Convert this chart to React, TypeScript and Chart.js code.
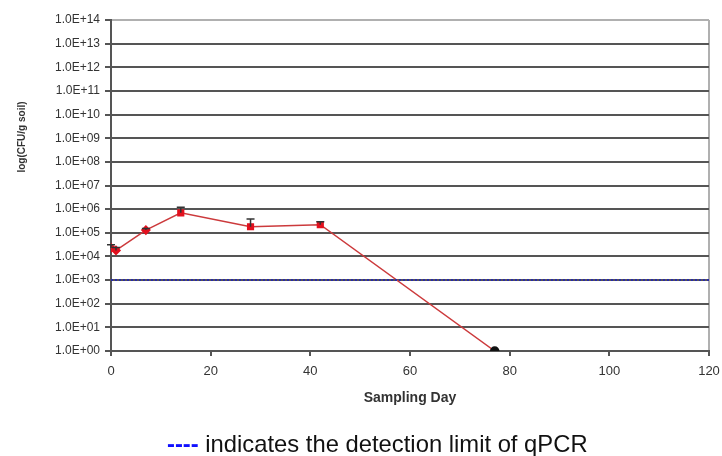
import React, { useEffect, useRef } from "react";
import { Chart, registerables } from "chart.js";

Chart.register(...registerables);

const days = [0, 1, 7, 14, 28, 42, 77];
const cfu = [2.3e4, 1.8e4, 1.3e5, 7.0e5, 1.8e5, 2.2e5, 1];
const errUpper = [3.1e4, 2.4e4, 1.5e5, 1.2e6, 3.8e5, 2.9e5, 0];
const pointColors = ["#e3101e", "#e3101e", "#e3101e", "#e3101e", "#e3101e", "#e3101e", "#111111"];
const pointStyles = ["rectRot", "rectRot", "rectRot", "rect", "rect", "rect", "circle"];
const detectionLimit = 1000;
const xRange = [0, 120];
const yExponents = [0, 1, 2, 3, 4, 5, 6, 7, 8, 9, 10, 11, 12, 13, 14];

const errorBarPlugin = {
  id: "errorBars",
  afterDatasetsDraw(chart: any) {
    const ctx = chart.ctx;
    const xs = chart.scales.x;
    const ys = chart.scales.y;
    ctx.save();
    ctx.strokeStyle = "#333333";
    ctx.lineWidth = 1.5;
    days.forEach((d, i) => {
      if (!errUpper[i] || errUpper[i] <= cfu[i]) return;
      const px = xs.getPixelForValue(d);
      const y0 = ys.getPixelForValue(cfu[i]);
      const y1 = ys.getPixelForValue(errUpper[i]);
      ctx.beginPath();
      ctx.moveTo(px, y0);
      ctx.lineTo(px, y1);
      ctx.moveTo(px - 4, y1);
      ctx.lineTo(px + 4, y1);
      ctx.stroke();
    });
    ctx.restore();
  },
};

const yTitlePlugin = {
  id: "yTitle",
  afterDraw(chart: any) {
    const ctx = chart.ctx;
    ctx.save();
    ctx.translate(22, 137);
    ctx.rotate(-Math.PI / 2);
    ctx.fillStyle = "#333333";
    ctx.font = "bold 10px 'Liberation Sans', Arial, sans-serif";
    ctx.textAlign = "center";
    ctx.textBaseline = "middle";
    ctx.fillText("log(CFU/g soil)", 0, 0);
    ctx.restore();
  },
};

export default function App() {
  const ref = useRef<HTMLCanvasElement>(null);
  useEffect(() => {
    if (!ref.current) return;
    const chart = new Chart(ref.current, {
      type: "line",
      data: {
        datasets: [
          {
            label: "Detection limit",
            data: xRange.map((x) => ({ x, y: detectionLimit })),
            borderColor: "#2a2aa8",
            borderWidth: 2,
            borderDash: [2, 2],
            pointRadius: 0,
            fill: false,
          },
          {
            label: "CFU",
            data: days.map((d, i) => ({ x: d, y: cfu[i] })),
            borderColor: "#cc3a3c",
            borderWidth: 1.5,
            pointRadius: 4,
            pointStyle: pointStyles,
            pointBackgroundColor: pointColors,
            pointBorderColor: pointColors,
            fill: false,
            tension: 0,
          },
        ],
      },
      options: {
        responsive: false,
        animation: false,
        layout: { padding: { left: 0, right: 13, top: 20, bottom: 45 } },
        plugins: { legend: { display: false }, tooltip: { enabled: false } },
        scales: {
          x: {
            type: "linear",
            min: xRange[0],
            max: xRange[1],
            afterFit(scale: any) {
              scale.height = 60;
              scale.paddingRight = 0;
              scale.paddingLeft = 0;
            },
            ticks: {
              stepSize: 20,
              padding: 8,
              color: "#333333",
              font: { family: "'Liberation Sans', Arial, sans-serif", size: 13 },
            },
            grid: {
              drawOnChartArea: true,
              color: (c: any) => (c.tick && c.tick.value === xRange[1] ? "#b0b0b0" : "transparent"),
              tickColor: "#555555",
              tickLength: 5,
              lineWidth: 2,
            },
            border: { color: "#555555", width: 2 },
            title: {
              display: true,
              text: "Sampling Day",
              color: "#333333",
              font: { family: "'Liberation Sans', Arial, sans-serif", size: 14, weight: "bold" },
              padding: { top: 0, bottom: 4 },
            },
          },
          y: {
            type: "logarithmic",
            min: 1,
            max: 1e14,
            afterFit(scale: any) {
              scale.width = 111;
            },
            afterBuildTicks(scale: any) {
              scale.ticks = yExponents.map((e) => ({ value: Math.pow(10, e) }));
            },
            ticks: {
              autoSkip: false,
              padding: 5,
              color: "#333333",
              font: { family: "'Liberation Sans', Arial, sans-serif", size: 12 },
              callback: (v: any) => {
                const e = Math.round(Math.log10(Number(v)));
                return "1.0E+" + String(e).padStart(2, "0");
              },
            },
            grid: {
              color: (c: any) => (c.tick && c.tick.value === 1e14 ? "#b0b0b0" : "#555555"),
              tickColor: "#555555",
              tickLength: 6,
              lineWidth: 2,
            },
            border: { color: "#555555", width: 2 },
          },
        },
      },
      plugins: [errorBarPlugin, yTitlePlugin],
    } as any);
    return () => chart.destroy();
  }, []);

  return (
    <div style={{ position: "absolute", left: 0, top: 0, width: 722, height: 456, background: "#ffffff" }}>
      <canvas ref={ref} width={722} height={456} style={{ display: "block" }} />
      <div
        style={{
          position: "absolute",
          left: 167,
          top: 430,
          whiteSpace: "nowrap",
          fontFamily: "'Liberation Sans', Arial, sans-serif",
          fontSize: 23.8,
          lineHeight: "normal",
          color: "#111111",
        }}
      >
        <span style={{ color: "#1010ff", fontWeight: "bold" }}>----</span> indicates the detection limit of qPCR
      </div>
    </div>
  );
}
